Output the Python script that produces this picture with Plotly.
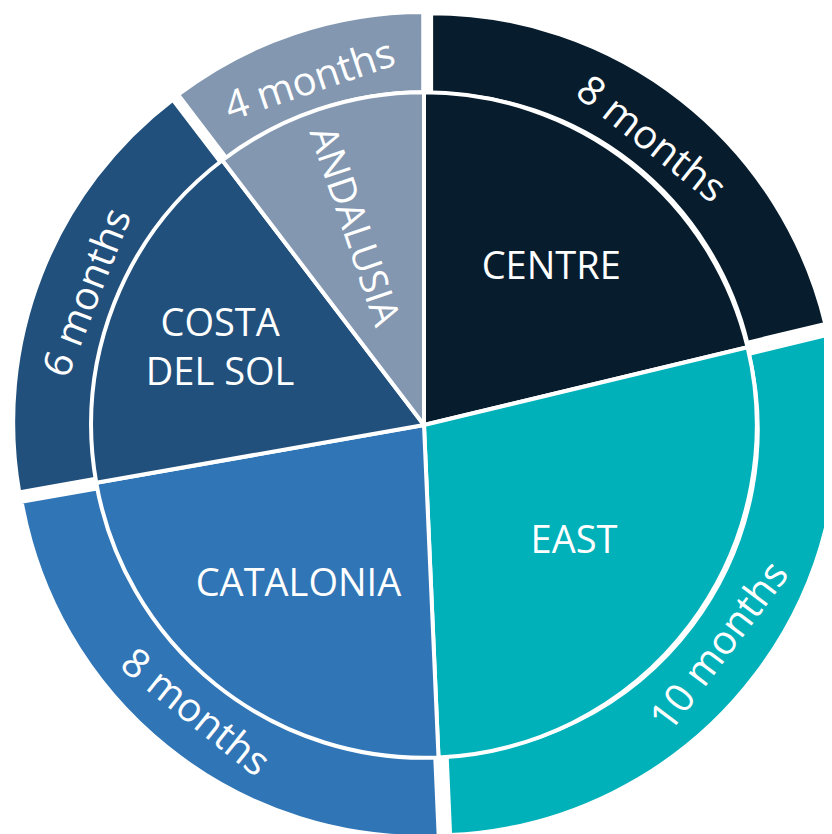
import plotly.graph_objects as go

# regions clockwise from 12 o'clock
regions = ['CENTRE', 'EAST', 'CATALONIA', 'COSTA<br>DEL SOL', 'ANDALUSIA']
months = [8, 10, 8, 6, 4]
# slice sizes as drawn in the picture (degrees of the circle)
share = [76.5, 101.0, 82.5, 62.7, 37.3]
month_labels = ['%d months' % m for m in months]
colors = ['#071d2d', '#00b1b9', '#3075b5', '#22507c', '#8397b1']

FONT = 'Open Sans, Roboto, sans-serif'

outer = go.Pie(
    values=share,
    labels=regions,
    text=month_labels,
    textinfo='text',
    sort=False,
    direction='clockwise',
    rotation=0,
    hole=0.8,
    pull=0.018,
    marker=dict(colors=colors, line=dict(color='white', width=5)),
    insidetextorientation='tangential',
    textposition='inside',
    textfont=dict(family=FONT, size=40, color='white'),
    domain=dict(x=[0.005, 1], y=[0, 1]),
    showlegend=False,
    hoverinfo='skip',
)

inner = go.Pie(
    values=share,
    labels=regions,
    textinfo='label',
    sort=False,
    direction='clockwise',
    rotation=0,
    marker=dict(colors=colors, line=dict(color='white', width=4)),
    insidetextorientation='auto',
    textposition='inside',
    textfont=dict(family=FONT, size=38, color='white'),
    domain=dict(x=[0.1, 0.9], y=[0.1, 0.9]),
    showlegend=False,
    hoverinfo='skip',
)

fig = go.Figure(data=[outer, inner])
fig.update_layout(
    width=832, height=834,
    margin=dict(l=0, r=0, t=0, b=0),
    paper_bgcolor='white',
    plot_bgcolor='white',
)
fig.write_html('out.html')
